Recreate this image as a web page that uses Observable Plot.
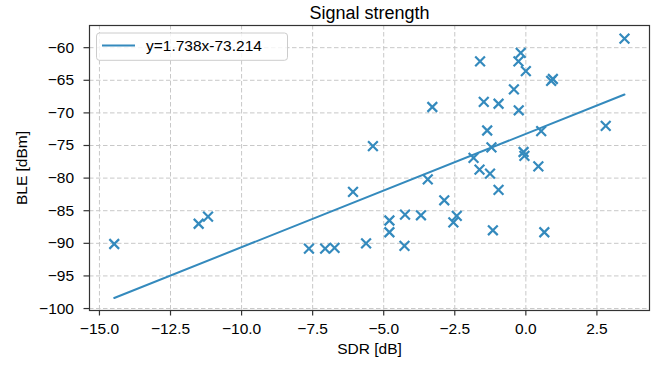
<!DOCTYPE html>
<html><head><meta charset="utf-8">
<script src="https://cdn.jsdelivr.net/npm/d3@7"></script>
<script src="https://cdn.jsdelivr.net/npm/@observablehq/plot@0.6"></script>
<style>body{margin:0;background:#fff}</style>
</head><body><div id="chart"></div>
<script>
const sdr = [-14.48, -11.51, -11.18, -7.63, -7.06, -6.73, -6.08, -5.62, -5.38, -4.80, -4.80, -4.25, -4.27, -3.69, -3.45, -3.29, -2.87, -2.43, -2.55, -1.84, -1.63, -1.61, -1.48, -1.36, -1.26, -1.21, -1.16, -0.96, -0.96, -0.42, -0.26, -0.25, -0.18, 0.0, -0.08, -0.05, 0.44, 0.54, 0.65, 0.89, 0.95, 2.81, 3.47];
const ble = [-90.1, -87.0, -85.9, -90.8, -90.8, -90.7, -82.1, -90.0, -75.1, -86.5, -88.3, -85.6, -90.4, -85.7, -80.2, -69.1, -83.4, -85.8, -86.8, -76.9, -78.7, -62.1, -68.3, -72.7, -79.3, -75.3, -88.0, -68.6, -81.8, -66.4, -62.1, -69.6, -60.8, -63.6, -76.0, -76.6, -78.2, -72.8, -88.3, -65.1, -64.8, -72.0, -58.6];
const fit = [1.738, -73.214]; // slope, intercept
const xTicks = [-15, -12.5, -10, -7.5, -5, -2.5, 0, 2.5];
const yTicks = [-100, -95, -90, -85, -80, -75, -70, -65, -60];
const title = "Signal strength";
const xLabel = "SDR [dB]";
const yLabel = "BLE [dBm]";
const legendLabel = `y=${fit[0]}x${fit[1]}`;

const blue = "#348ABD";
const points = sdr.map((x, i) => ({x, y: ble[i]}));
const lineData = d3.extent(sdr).map(x => ({x, y: fit[0] * x + fit[1]}));

const mL = 89, mR = 11, mT = 25, mB = 56;
const font = '"Liberation Sans", Arial, sans-serif';
const grid = {stroke: "#c8c8c8", strokeOpacity: 1, strokeDasharray: "4.5,2.5", strokeWidth: 1};

const chart = Plot.plot({
  width: 660, height: 366,
  marginLeft: mL, marginRight: mR, marginTop: mT, marginBottom: mB,
  x: {domain: [-15.35, 4.35]},
  y: {domain: [-100.3, -56.6]},
  style: {fontFamily: font, fontSize: "15px", color: "#000", background: "#fff"},
  marks: [
    Plot.gridX(xTicks, grid),
    Plot.gridY(yTicks, grid),
    Plot.line(lineData, {x: "x", y: "y", stroke: blue, strokeWidth: 2}),
    Plot.dot(points, {x: "x", y: "y", symbol: "times", r: 4.5, stroke: blue, strokeWidth: 2.2}),
    Plot.frame({stroke: "#333", strokeWidth: 1.2}),
    Plot.axisX(xTicks, {tickSize: 5.5, tickPadding: 7, tickFormat: d3.format(".1f"), label: null, stroke: "#333", strokeWidth: 1.2, fontSize: 15.5}),
    Plot.axisY(yTicks, {tickSize: 5.5, tickPadding: 10, tickFormat: d3.format("d"), label: null, stroke: "#333", strokeWidth: 1.2, fontSize: 15.5}),
    Plot.text([xLabel], {frameAnchor: "bottom", dy: 32.5, lineAnchor: "top", text: d => d, fontSize: 15.5}),
    Plot.text([yLabel], {frameAnchor: "left", dx: -67.3, rotate: -90, textAnchor: "middle", text: d => d, fontSize: 15.5}),
    Plot.text([title], {frameAnchor: "top", dy: -7, lineAnchor: "bottom", text: d => d, fontSize: 18})
  ]
});
document.getElementById("chart").appendChild(chart);

// legend box (top-left inside the frame)
const svg = d3.select(chart);
const lg = svg.append("g").attr("text-anchor", "start");
lg.append("rect").attr("x", mL + 7.5).attr("y", mT + 8).attr("width", 191).attr("height", 27.3)
  .attr("rx", 3).attr("fill", "#fff").attr("fill-opacity", 0.8).attr("stroke", "#cccccc").attr("stroke-width", 1);
lg.append("line").attr("x1", mL + 13).attr("x2", mL + 46).attr("y1", mT + 20.5).attr("y2", mT + 20.5)
  .attr("stroke", blue).attr("stroke-width", 2);
lg.append("text").attr("x", mL + 57).attr("y", mT + 26).attr("text-anchor", "start").text(legendLabel)
  .attr("font-family", font).attr("font-size", 15.5).attr("fill", "#000");
</script>
</body></html>
